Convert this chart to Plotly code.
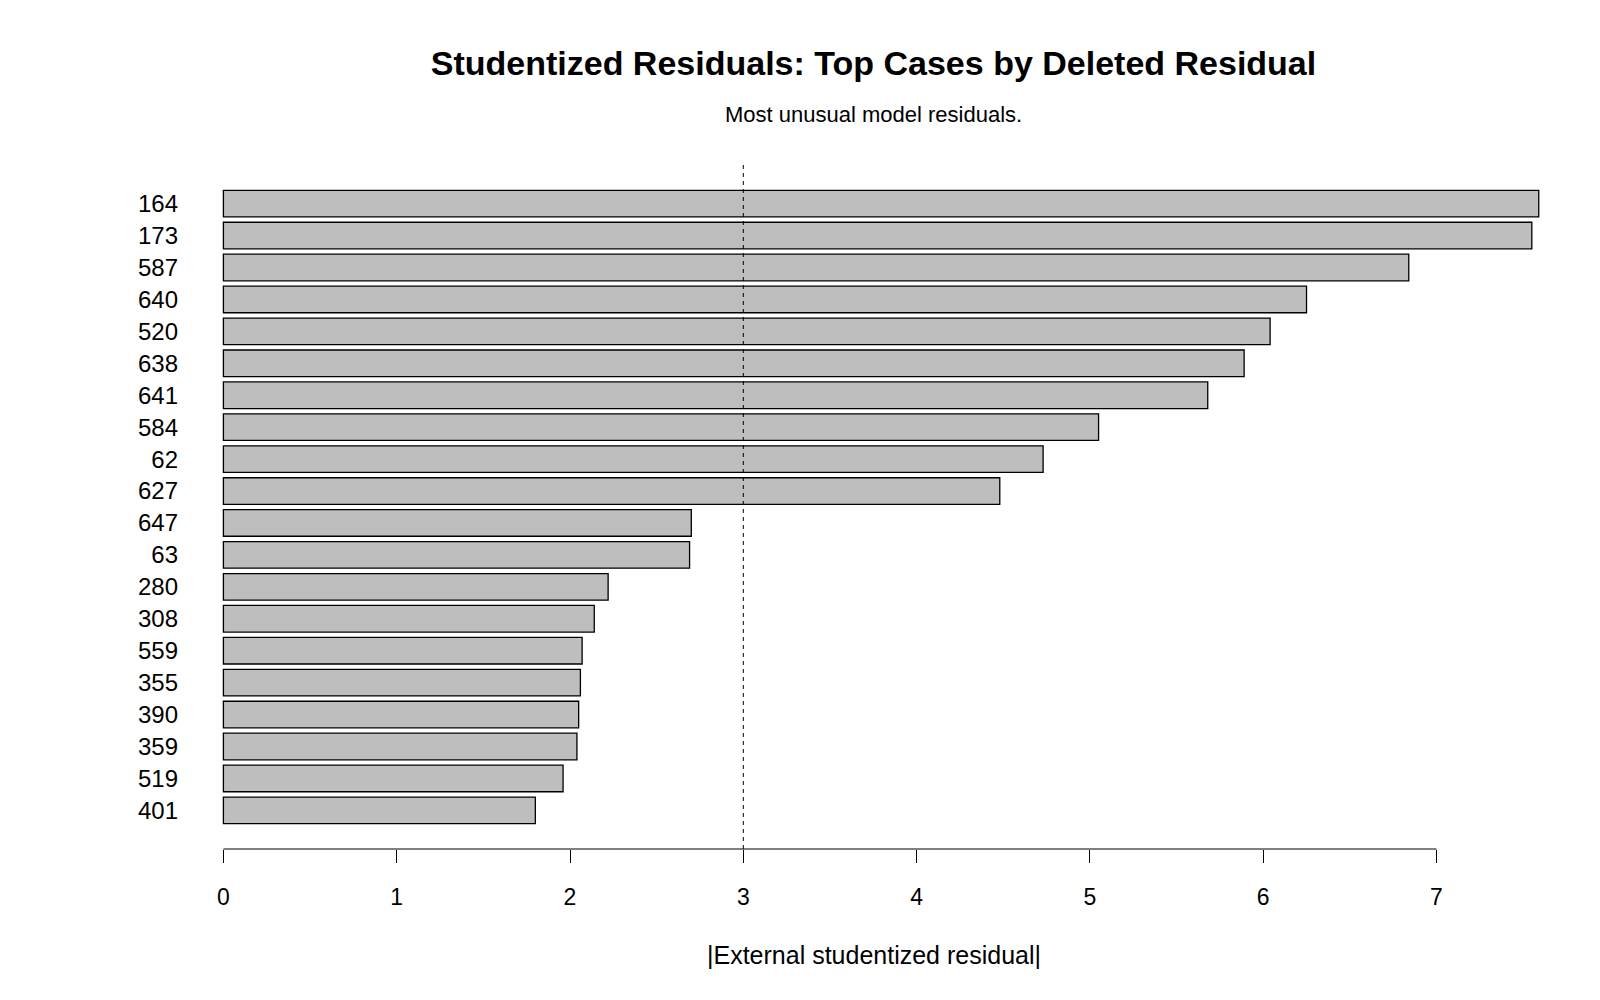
import plotly.graph_objects as go

# ---- data (top to bottom as in reference) ----
case_ids = ["164", "173", "587", "640", "520", "638", "641", "584", "62", "627",
            "647", "63", "280", "308", "559", "355", "390", "359", "519", "401"]
abs_resid = [7.59, 7.55, 6.84, 6.25, 6.04, 5.89, 5.68, 5.05, 4.73, 4.48,
             2.70, 2.69, 2.22, 2.14, 2.07, 2.06, 2.05, 2.04, 1.96, 1.80]
x_ticks = [0, 1, 2, 3, 4, 5, 6, 7]
threshold = 3

title_text = "Studentized Residuals: Top Cases by Deleted Residual"
subtitle_text = "Most unusual model residuals."
x_title = "|External studentized residual|"

# ---- layout geometry (pixels) ----
W, H = 1600, 1000
ML, MR, MT, MB = 200, 30, 165, 150.5
x0_px, px_per_unit = 223.4, 173.3
plot_w = W - ML - MR
plot_h = H - MT - MB
x_lo = (ML - x0_px) / px_per_unit
x_hi = (W - MR - x0_px) / px_per_unit

def paper_x(px):
    return (px - ML) / plot_w

def paper_y(py):
    return (H - MB - py) / plot_h

cats = case_ids[::-1]
vals = abs_resid[::-1]

fig = go.Figure(go.Bar(
    y=cats, x=vals, orientation="h",
    marker=dict(color="#BEBEBE", line=dict(color="black", width=1.3)),
    width=0.833, hoverinfo="x+y",
))

font = "Liberation Sans, Arial, sans-serif"
fig.update_layout(
    width=W, height=H,
    margin=dict(l=ML, r=MR, t=MT, b=MB),
    plot_bgcolor="white", paper_bgcolor="white",
    showlegend=False,
    font=dict(family=font, color="black"),
    title=dict(text="<b>" + title_text + "</b>", xref="container", yref="container",
               x=873.5 / W, y=1 - 63 / H, xanchor="center", yanchor="middle",
               font=dict(size=34, family=font, color="black")),
    xaxis=dict(range=[x_lo, x_hi], tickvals=x_ticks, ticks="outside", ticklen=13,
               tickwidth=1, tickcolor="black", showline=False, showgrid=False,
               zeroline=False, tickfont=dict(size=23, family=font, color="black"),
               ticklabelstandoff=14),
    yaxis=dict(type="category", categoryorder="array", categoryarray=cats,
               range=[-1.21, len(cats) - 1 + 1.21], showgrid=False, zeroline=False,
               showline=False, ticks="", tickfont=dict(size=24, family=font, color="black"),
               ticklabelstandoff=int(ML - 178.6)),
    shapes=[
        dict(type="line", xref="x", yref="paper", x0=x_ticks[0], x1=x_ticks[-1], y0=0, y1=0,
             line=dict(color="black", width=1)),
        dict(type="line", xref="x", yref="paper", x0=threshold, x1=threshold, y0=0, y1=1,
             line=dict(color="black", width=1, dash="4px,4px"), layer="above"),
    ],
    annotations=[
        dict(text=subtitle_text, xref="paper", yref="paper", x=paper_x(873.5), y=paper_y(114),
             xanchor="center", yanchor="middle", showarrow=False,
             font=dict(size=22, family=font, color="black")),
        dict(text=x_title, xref="paper", yref="paper", x=paper_x(873.5), y=paper_y(956),
             xanchor="center", yanchor="middle", showarrow=False,
             font=dict(size=25, family=font, color="black")),
    ],
)

fig.write_html("out.html")
